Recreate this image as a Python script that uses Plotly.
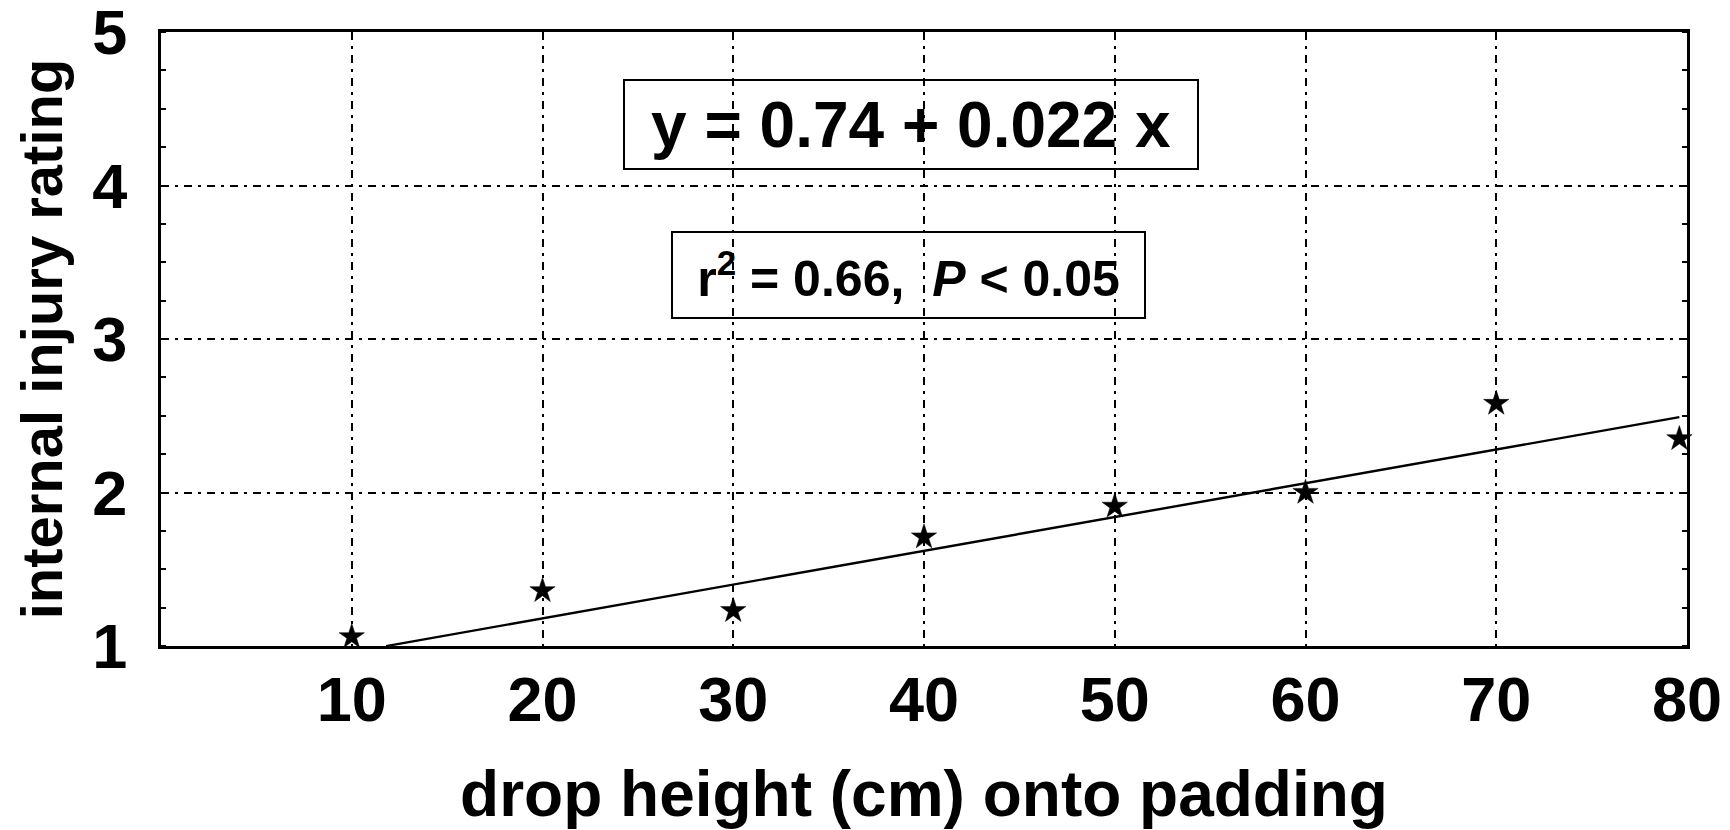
import plotly.graph_objects as go
import numpy as np

# Data
drop_height = [10, 20, 30, 40, 50, 60, 70, 79.6]
injury_rating = [1.06, 1.36, 1.23, 1.71, 1.91, 2.00, 2.58, 2.35]

fit_intercept = 0.74
fit_slope = 0.022
fit_x_start = 11.8
fit_x_end = 79.6

x_ticks = [10, 20, 30, 40, 50, 60, 70, 80]
y_ticks = [1, 2, 3, 4, 5]

eq_text = "y = 0.74 + 0.022 x"
stat_text = "r<sup>2</sup> = 0.66,  <i>P</i> < 0.05"

FONT = "Liberation Sans, Arial, Helvetica, sans-serif"

fit_x = np.array([fit_x_start, fit_x_end])
fit_y = fit_intercept + fit_slope * fit_x

fig = go.Figure()
fig.add_trace(go.Scatter(x=fit_x, y=fit_y, mode="lines",
                         line=dict(color="black", width=2.4),
                         showlegend=False, hoverinfo="skip"))
fig.add_trace(go.Scatter(x=drop_height, y=injury_rating, mode="markers",
                         marker=dict(symbol="star", size=19, color="black",
                                     line=dict(width=0.5, color="black")),
                         showlegend=False, cliponaxis=False))

grid_dash = "8px,6px,3px,6px"

fig.update_layout(
    width=1730, height=830,
    margin=dict(l=161, r=43, t=32, b=184),
    plot_bgcolor="white", paper_bgcolor="white",
    font=dict(family=FONT, color="black", size=56, weight="bold"),
    xaxis=dict(
        range=[0, 80], tickvals=x_ticks, ticktext=[str(v) for v in x_ticks],
        showgrid=True, gridcolor="black", gridwidth=2, griddash=grid_dash,
        showline=True, linecolor="black", linewidth=3, mirror=True,
        ticks="", zeroline=False, automargin=False,
        tickfont=dict(size=63, family=FONT, weight="bold"),
        ticklabelstandoff=-4, ticklabeloverflow="allow",
        title=dict(text="drop height (cm) onto padding",
                   font=dict(size=64, family=FONT, weight="bold"), standoff=40),
    ),
    yaxis=dict(
        range=[1, 5], tickvals=y_ticks, ticktext=[str(v) for v in y_ticks],
        showgrid=True, gridcolor="black", gridwidth=2, griddash=grid_dash,
        showline=True, linecolor="black", linewidth=3, mirror="ticks",
        ticks="", zeroline=False, automargin=False,
        tickfont=dict(size=63, family=FONT, weight="bold"),
        ticklabelstandoff=18, ticklabeloverflow="allow",
        minor=dict(dtick=0.25, ticks="inside", ticklen=5, tickcolor="black",
                   tickwidth=1.5, showgrid=False),
        title=dict(text="internal injury rating",
                   font=dict(size=58, family=FONT, weight="bold"), standoff=12),
    ),
    annotations=[
        dict(x=39.3, y=4.40, xref="x", yref="y", text=eq_text, showarrow=False,
             font=dict(size=64, family=FONT, weight="bold"),
             bordercolor="black", borderwidth=2, borderpad=6,
             width=560, height=75),
        dict(x=39.2, y=3.42, xref="x", yref="y", text=stat_text, showarrow=False,
             font=dict(size=50, family=FONT, weight="bold"),
             bordercolor="black", borderwidth=2, borderpad=6,
             width=459, height=72),
    ],
)

fig.write_html("out.html")
